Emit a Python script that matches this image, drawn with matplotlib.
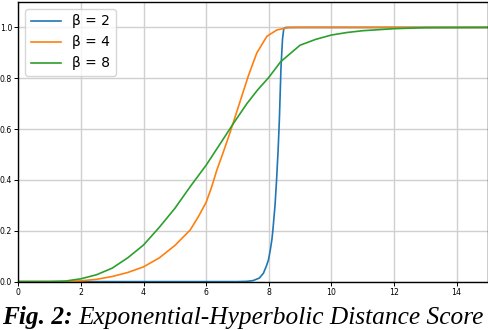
import matplotlib
matplotlib.use("Agg")
import matplotlib.pyplot as plt

# values
x_b2 = [0, 7.0, 7.3, 7.5, 7.7, 7.83, 7.92, 7.99, 8.05, 8.1, 8.13, 8.2, 8.25, 8.3, 8.34, 8.39, 8.44, 8.48, 8.55, 9.0, 15]
y_b2 = [0, 0, 0.001, 0.004, 0.014, 0.033, 0.06, 0.085, 0.125, 0.165, 0.2, 0.3, 0.4, 0.52, 0.64, 0.84, 0.955, 0.995, 1.0, 1.0, 1.0]

x_b4 = [0, 1.5, 2.0, 2.5, 3.0, 3.5, 4.0, 4.5, 5.0, 5.49, 5.75, 6.0, 6.17, 6.34, 6.55, 6.76, 7.14, 7.35, 7.62, 7.94, 8.26, 8.6, 9.0, 15]
y_b4 = [0, 0, 0.003, 0.009, 0.02, 0.036, 0.058, 0.093, 0.142, 0.203, 0.255, 0.312, 0.37, 0.438, 0.51, 0.585, 0.73, 0.81, 0.9, 0.965, 0.99, 0.999, 1.0, 1.0]

x_b8 = [0, 1.0, 1.5, 2.0, 2.5, 3.0, 3.5, 4.0, 4.5, 5.0, 5.5, 6.0, 6.5, 6.87, 7.3, 7.65, 8.0, 8.38, 9.0, 9.5, 10.0, 10.5, 11.0, 12.0, 13.0, 15]
y_b8 = [0, 0, 0.002, 0.011, 0.027, 0.053, 0.094, 0.144, 0.213, 0.288, 0.375, 0.458, 0.552, 0.622, 0.70, 0.755, 0.803, 0.865, 0.93, 0.953, 0.97, 0.98, 0.987, 0.995, 0.999, 1.0]

labels = ["β = 2", "β = 4", "β = 8"]
x_ticks = [0, 2, 4, 6, 8, 10, 12, 14]
y_ticks = [0.0, 0.2, 0.4, 0.6, 0.8, 1.0]

fig = plt.figure(figsize=(4.88, 3.30), dpi=100)
ax = fig.add_axes([18.3 / 488, 48.4 / 330, 469.6 / 488, 279.6 / 330])

for xs, ys, lab in zip([x_b2, x_b4, x_b8], [y_b2, y_b4, y_b8], labels):
    ax.plot(xs, ys, lw=1.2, label=lab)

ax.set_xlim(0, 15)
ax.set_ylim(0, 1.1)
ax.set_xticks(x_ticks)
ax.set_yticks(y_ticks)
ax.tick_params(labelsize=5.6, length=3, width=0.7, pad=1.5)
ax.grid(True, color="#d0d0d0", lw=1)
for s in ax.spines.values():
    s.set_linewidth(1)
ax.legend(loc="upper left", fontsize=10, handlelength=2.2)

# caption: bold-italic prefix then italic text
fig.canvas.draw()
t1 = fig.text(0.004, 0.018, "Fig. 2:", family="Liberation Serif", style="italic",
              weight="bold", fontsize=18.3, va="baseline")
fig.canvas.draw()
bb = t1.get_window_extent()
fig.text(bb.x1 / fig.bbox.width + 0.012, 0.018, "Exponential-Hyperbolic Distance Score",
         family="Liberation Serif", style="italic", fontsize=18.3, va="baseline")

fig.savefig("out.png", dpi=100)
